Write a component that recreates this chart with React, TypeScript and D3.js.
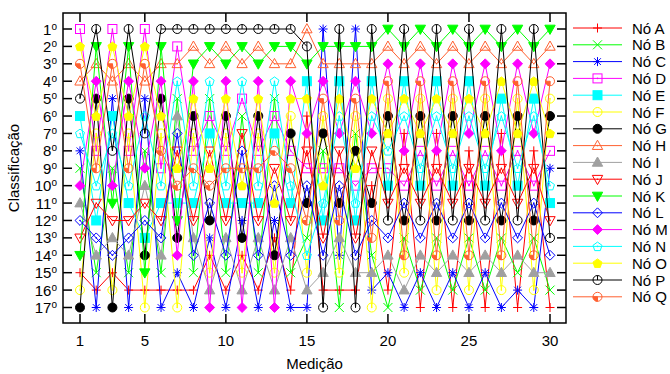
import { useEffect, useRef } from "react";
import * as d3 from "d3";

// nodes (series), in legend order
const nodes = ["A", "B", "C", "D", "E", "F", "G", "H", "I", "J", "K", "L", "M", "N", "O", "P", "Q"];
const nodeColors = [
  "#ff0000", "#00ff00", "#0000ff", "#ff00ff", "#00ffff", "#ffff00", "#000000", "#ff6030", "#a0a0a0",
  "#ff0000", "#00ff00", "#0000ff", "#ff00ff", "#00ffff", "#ffff00", "#000000", "#ff6030",
];
const nodeMarkers = [
  "plus", "cross", "star", "square", "squareFill", "circle", "circleFill", "triUp", "triUpFill",
  "triDown", "triDownFill", "diamond", "diamondFill", "pentagon", "pentagonFill", "circleTick", "circleQuarter",
];

const xTicks = [1, 5, 10, 15, 20, 25, 30];
const rankTicks = d3.range(1, 18);

// classification per measurement: node letters from 1st to 17th place
const ranking = [
  "DOQHPENCBMILJKAFG", // 1
  "PKHMGOFDQNJELIBAC", // 2
  "DOQHCENPBMKJILAFG", // 3
  "PKHMGOFDQNEJLIBAC", // 4
  "DOQHCNPBMIJLEGKAF", // 5
  "PKHMGOFQDNEJLIBAC", // 6
  "PDHNBILJOQEKGMCAF", // 7
  "PHKMOGFDQNEJILBAC", // 8
  "PKHNBDEJOQLGCAFIM", // 9
  "PHKMOGFDQNEJILBAC", // 10
  "PKHNDBJLQOECGAFIM", // 11
  "PHKMOGFDQNEJILBAC", // 12
  "PKHNBDEQJLOCAGFIM", // 13
  "PKHMOFGDQNEJILBAC", // 14
  "HPKEOAMJDLGQBNFIC", // 15
  "CKHMQFGBDONEJLIAP", // 16
  "PKHEONMJDLGQICFAB", // 17
  "CKHMQFBGODNEJLIAP", // 18
  "PKHEONMJDAGLQBICF", // 19
  "KHMQFGONDEJPLICAB", // 20
  "PKHEONAMJDLGBQFIC", // 21
  "KHMQFGODNEJPLICBA", // 22
  "PKHEONAMJDLGBQIFC", // 23
  "KHMQFGODNEJPLICBA", // 24
  "PKHEONMAJDLGBQIFC", // 25
  "KHMQFGODNEJPLICBA", // 26
  "PKHOENAMJDLGBQIFC", // 27
  "KHMQFGODNEJPLIBCA", // 28
  "PKHOENMAJDLGBQIFC", // 29
  "KHMQFGODCNEJPLIBA", // 30
];

function drawMarker(g: any, type: string, x: number, y: number, color: string) {
  const s = 4.5;
  const m = g.append("g").attr("transform", `translate(${x},${y})`)
    .attr("stroke", color).attr("stroke-width", 1).attr("fill", "none");
  const dot = () => m.append("circle").attr("r", 0.8).attr("fill", color).attr("stroke", "none");
  const poly = (pts: number[][], filled: boolean) =>
    m.append("path").attr("d", "M" + pts.map(p => p.join(",")).join("L") + "Z")
      .attr("fill", filled ? color : "none");
  const pent = d3.range(5).map(i => {
    const a = -Math.PI / 2 + (i * 2 * Math.PI) / 5;
    return [s * 1.05 * Math.cos(a), s * 1.05 * Math.sin(a) + 0.4];
  });
  switch (type) {
    case "plus":
      m.append("path").attr("d", `M${-s},0H${s}M0,${-s}V${s}`);
      break;
    case "cross":
      m.append("path").attr("d", `M${-s},${-s}L${s},${s}M${-s},${s}L${s},${-s}`);
      break;
    case "star":
      m.append("path").attr("d", `M${-s},0H${s}M0,${-s}V${s}M${-s * 0.75},${-s * 0.75}L${s * 0.75},${s * 0.75}M${-s * 0.75},${s * 0.75}L${s * 0.75},${-s * 0.75}`);
      break;
    case "square":
      m.append("rect").attr("x", -s).attr("y", -s).attr("width", 2 * s).attr("height", 2 * s);
      dot();
      break;
    case "squareFill":
      m.append("rect").attr("x", -s).attr("y", -s).attr("width", 2 * s).attr("height", 2 * s).attr("fill", color);
      break;
    case "circle":
      m.append("circle").attr("r", s);
      dot();
      break;
    case "circleFill":
      m.append("circle").attr("r", s).attr("fill", color);
      break;
    case "triUp":
      poly([[0, -s * 1.2], [s * 1.15, s * 0.85], [-s * 1.15, s * 0.85]], false);
      dot();
      break;
    case "triUpFill":
      poly([[0, -s * 1.2], [s * 1.15, s * 0.85], [-s * 1.15, s * 0.85]], true);
      break;
    case "triDown":
      poly([[0, s * 1.2], [s * 1.15, -s * 0.85], [-s * 1.15, -s * 0.85]], false);
      dot();
      break;
    case "triDownFill":
      poly([[0, s * 1.2], [s * 1.15, -s * 0.85], [-s * 1.15, -s * 0.85]], true);
      break;
    case "diamond":
      poly([[0, -s * 1.1], [s * 1.1, 0], [0, s * 1.1], [-s * 1.1, 0]], false);
      dot();
      break;
    case "diamondFill":
      poly([[0, -s * 1.1], [s * 1.1, 0], [0, s * 1.1], [-s * 1.1, 0]], true);
      break;
    case "pentagon":
      poly(pent, false);
      dot();
      break;
    case "pentagonFill":
      poly(pent, true);
      break;
    case "circleTick":
      m.append("circle").attr("r", s);
      m.append("path").attr("d", `M0,0V${-s}`);
      break;
    case "circleQuarter":
      m.append("circle").attr("r", s);
      m.append("path").attr("d", `M0,0H${-s}A${s},${s} 0 0 0 0,${s}Z`).attr("fill", color);
      break;
  }
}

export default function App() {
  const ref = useRef<SVGSVGElement>(null);

  useEffect(() => {
    const svg = d3.select(ref.current);
    svg.selectAll("*").remove();

    const frame = { left: 63, right: 566, top: 13, bottom: 323 };
    const x = d3.scaleLinear().domain([1, 30]).range([80, 550]);
    const y = d3.scaleLinear().domain([1, 17]).range([29, 307.5]);
    const font = "'Liberation Sans', Arial, sans-serif";

    const series = nodes.map((n, i) => ({
      key: n,
      color: nodeColors[i],
      marker: nodeMarkers[i],
      values: ranking.map((r, j) => ({ m: j + 1, rank: r.indexOf(n) + 1 })),
    }));

    const line = d3.line<any>().x(d => x(d.m)).y(d => y(d.rank));
    const plot = svg.append("g");

    series.forEach(s => {
      plot.append("path")
        .attr("d", line(s.values))
        .attr("fill", "none")
        .attr("stroke", s.color)
        .attr("stroke-width", 1);
      s.values.forEach(v => drawMarker(plot, s.marker, x(v.m), y(v.rank), s.color));
    });

    // frame and inward ticks
    const axes = svg.append("g").attr("stroke", "#000").attr("stroke-width", 1.5);
    axes.append("rect")
      .attr("x", frame.left).attr("y", frame.top)
      .attr("width", frame.right - frame.left).attr("height", frame.bottom - frame.top)
      .attr("fill", "none");
    const tl = 9;
    rankTicks.forEach(r => {
      axes.append("line").attr("x1", frame.left).attr("x2", frame.left + tl).attr("y1", y(r)).attr("y2", y(r));
      axes.append("line").attr("x1", frame.right).attr("x2", frame.right - tl).attr("y1", y(r)).attr("y2", y(r));
    });
    xTicks.forEach(t => {
      axes.append("line").attr("x1", x(t)).attr("x2", x(t)).attr("y1", frame.bottom).attr("y2", frame.bottom - tl);
      axes.append("line").attr("x1", x(t)).attr("x2", x(t)).attr("y1", frame.top).attr("y2", frame.top + tl);
    });

    const labels = svg.append("g").attr("font-family", font).attr("font-size", 15).attr("fill", "#000");
    rankTicks.forEach(r => {
      const t = labels.append("text")
        .attr("x", frame.left - 6).attr("y", y(r) + 5.5)
        .attr("text-anchor", "end");
      t.append("tspan").text(String(r));
      t.append("tspan").attr("font-size", 10).attr("dy", -5).text("o");
    });
    xTicks.forEach(t => {
      labels.append("text")
        .attr("x", x(t)).attr("y", 346)
        .attr("text-anchor", "middle")
        .text(String(t));
    });
    labels.append("text")
      .attr("x", (frame.left + frame.right) / 2).attr("y", 369)
      .attr("text-anchor", "middle")
      .text("Medição");
    labels.append("text")
      .attr("transform", `translate(19,${(frame.top + frame.bottom) / 2}) rotate(-90)`)
      .attr("text-anchor", "middle")
      .text("Classificação");

    // legend
    const legend = svg.append("g");
    series.forEach((s, i) => {
      const ly = 28 + i * 16.8;
      legend.append("line")
        .attr("x1", 573).attr("x2", 622).attr("y1", ly).attr("y2", ly)
        .attr("stroke", s.color).attr("stroke-width", 1);
      drawMarker(legend, s.marker, 597.5, ly, s.color);
      legend.append("text")
        .attr("x", 632).attr("y", ly + 5.5)
        .attr("font-family", font).attr("font-size", 15)
        .text(`Nó ${s.key}`);
    });
  }, []);

  return (
    <svg ref={ref} width={670} height={374}
      style={{ position: "absolute", left: 0, top: 0, background: "#fff" }} />
  );
}
